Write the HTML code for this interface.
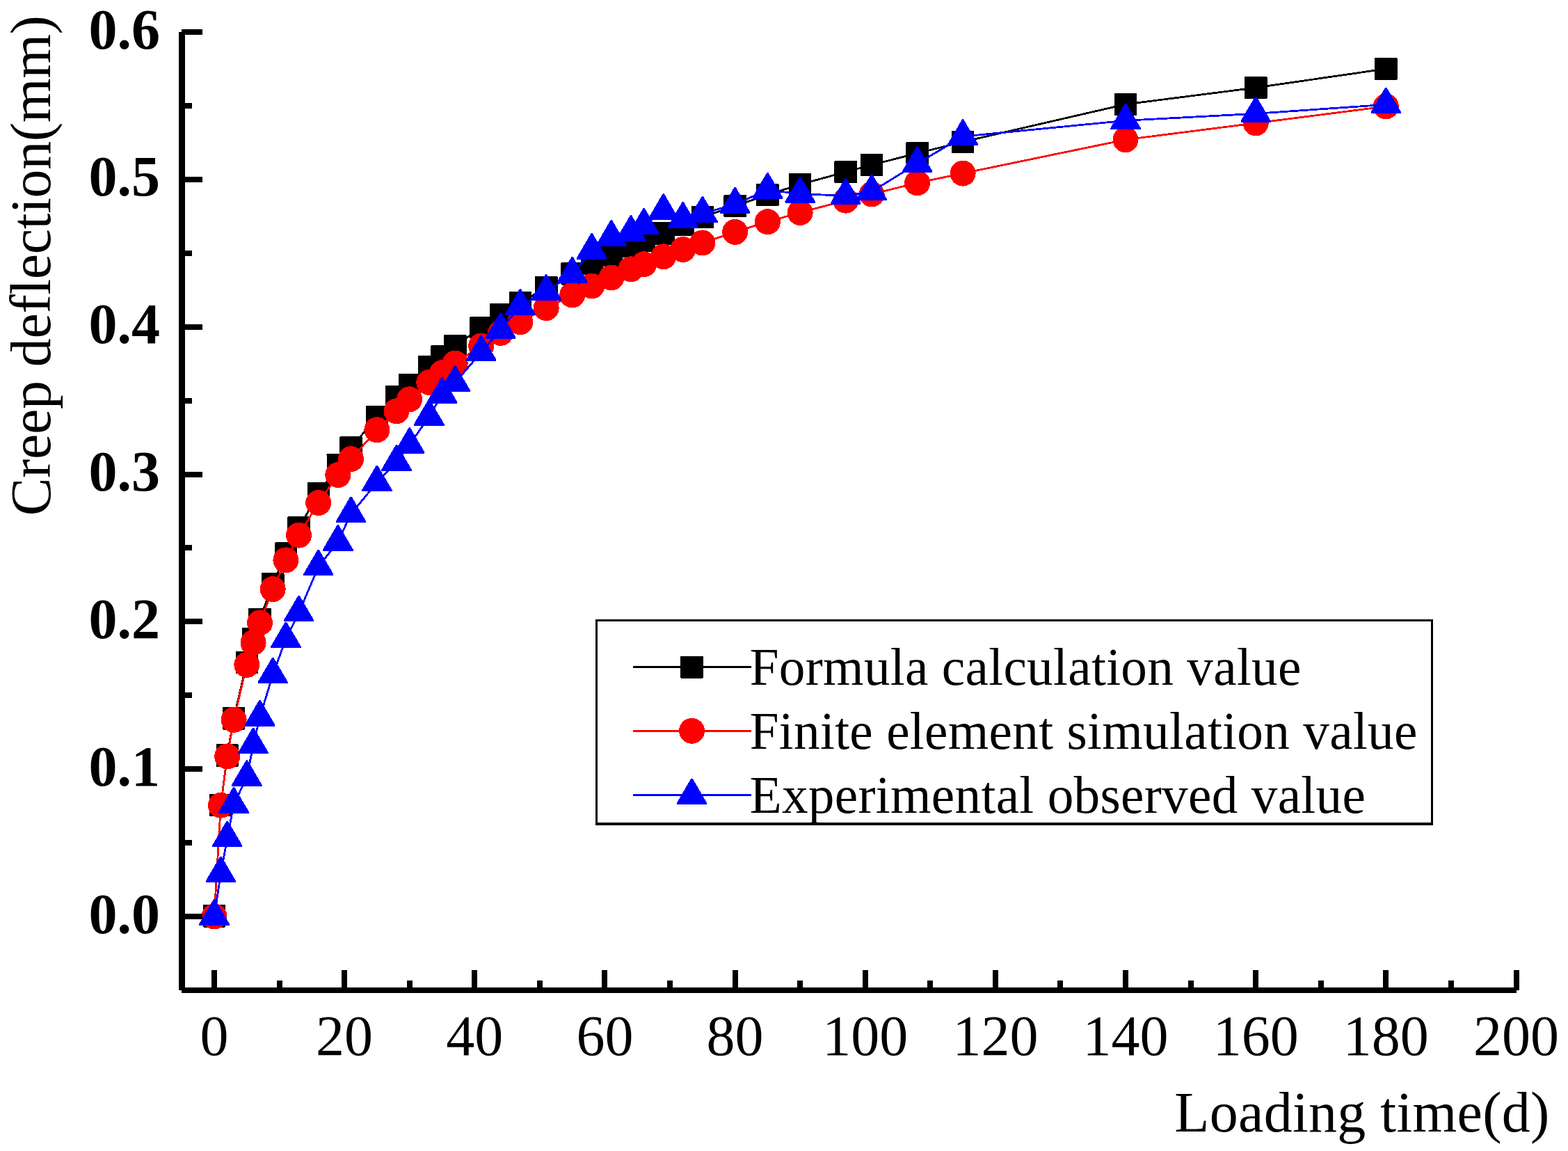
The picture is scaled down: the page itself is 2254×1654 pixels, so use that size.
<!DOCTYPE html>
<html lang="en">
<head>
<meta charset="utf-8">
<title>Creep deflection vs loading time</title>
<style>
html,body{margin:0;padding:0;background:#fff;}
body{width:2254px;height:1654px;overflow:hidden;}
svg{display:block;}
text{font-family:"Liberation Serif",serif;fill:#000;}
.ax{font-size:82px;}
.yt{font-size:82px;font-weight:bold;text-anchor:end;}
.xt{font-size:82px;text-anchor:middle;}
.lg{font-size:75.2px;}
.lig{font-variant-ligatures:discretionary-ligatures;font-feature-settings:"dlig" 1,"liga" 1;}
</style>
</head>
<body>
<svg width="2254" height="1654" viewBox="0 0 2254 1654" shape-rendering="crispEdges">
<rect x="0" y="0" width="2254" height="1654" fill="#fff"/>

<g fill="#000" stroke="none">
<polyline points="308,1316.5 317.4,1157.1 326.7,1085.4 336.1,1032.4 354.8,951.7 364.1,918.4 373.5,889.8 392.2,839.4 410.9,795.6 429.6,758.5 457.7,709.5 485.8,668.3 504.5,643.3 541.9,599.4 570,570.4 588.7,552.8 616.8,527.4 635.5,512.6 654.2,497.2 691.7,471.1 719.7,452.2 747.8,435.2 785.2,413 822.7,393.3 850.7,378.4 878.8,366.3 906.9,354.2 925.6,345.9 953.7,335.3 981.7,323.2 1009.8,311.9 1056.6,296 1103.4,279.9 1150.2,265.1 1215.7,247 1253.1,237 1318.6,220.2 1384.1,203.8 1618,149.9 1805.2,126 1992.3,98.9" fill="none" stroke="#000" stroke-width="2.8" stroke-linejoin="round"/>
<rect x="291.8" y="1300.2" width="32.5" height="32.5" rx="1.5"/>
<rect x="301.1" y="1140.8" width="32.5" height="32.5" rx="1.5"/>
<rect x="310.5" y="1069.2" width="32.5" height="32.5" rx="1.5"/>
<rect x="319.8" y="1016.2" width="32.5" height="32.5" rx="1.5"/>
<rect x="338.5" y="935.5" width="32.5" height="32.5" rx="1.5"/>
<rect x="347.9" y="902.1" width="32.5" height="32.5" rx="1.5"/>
<rect x="357.3" y="873.5" width="32.5" height="32.5" rx="1.5"/>
<rect x="376" y="823.1" width="32.5" height="32.5" rx="1.5"/>
<rect x="394.7" y="779.4" width="32.5" height="32.5" rx="1.5"/>
<rect x="413.4" y="742.2" width="32.5" height="32.5" rx="1.5"/>
<rect x="441.5" y="693.2" width="32.5" height="32.5" rx="1.5"/>
<rect x="469.5" y="652" width="32.5" height="32.5" rx="1.5"/>
<rect x="488.3" y="627" width="32.5" height="32.5" rx="1.5"/>
<rect x="525.7" y="583.1" width="32.5" height="32.5" rx="1.5"/>
<rect x="553.8" y="554.1" width="32.5" height="32.5" rx="1.5"/>
<rect x="572.5" y="536.5" width="32.5" height="32.5" rx="1.5"/>
<rect x="600.5" y="511.1" width="32.5" height="32.5" rx="1.5"/>
<rect x="619.3" y="496.4" width="32.5" height="32.5" rx="1.5"/>
<rect x="638" y="480.9" width="32.5" height="32.5" rx="1.5"/>
<rect x="675.4" y="454.9" width="32.5" height="32.5" rx="1.5"/>
<rect x="703.5" y="435.9" width="32.5" height="32.5" rx="1.5"/>
<rect x="731.6" y="418.9" width="32.5" height="32.5" rx="1.5"/>
<rect x="769" y="396.8" width="32.5" height="32.5" rx="1.5"/>
<rect x="806.4" y="377.1" width="32.5" height="32.5" rx="1.5"/>
<rect x="834.5" y="362.1" width="32.5" height="32.5" rx="1.5"/>
<rect x="862.6" y="350.1" width="32.5" height="32.5" rx="1.5"/>
<rect x="890.6" y="337.9" width="32.5" height="32.5" rx="1.5"/>
<rect x="909.3" y="329.6" width="32.5" height="32.5" rx="1.5"/>
<rect x="937.4" y="319.1" width="32.5" height="32.5" rx="1.5"/>
<rect x="965.5" y="306.9" width="32.5" height="32.5" rx="1.5"/>
<rect x="993.6" y="295.6" width="32.5" height="32.5" rx="1.5"/>
<rect x="1040.3" y="279.8" width="32.5" height="32.5" rx="1.5"/>
<rect x="1087.1" y="263.6" width="32.5" height="32.5" rx="1.5"/>
<rect x="1133.9" y="248.9" width="32.5" height="32.5" rx="1.5"/>
<rect x="1199.4" y="230.8" width="32.5" height="32.5" rx="1.5"/>
<rect x="1236.9" y="220.8" width="32.5" height="32.5" rx="1.5"/>
<rect x="1302.4" y="203.9" width="32.5" height="32.5" rx="1.5"/>
<rect x="1367.9" y="187.6" width="32.5" height="32.5" rx="1.5"/>
<rect x="1601.8" y="133.7" width="32.5" height="32.5" rx="1.5"/>
<rect x="1789" y="109.8" width="32.5" height="32.5" rx="1.5"/>
<rect x="1976.1" y="82.7" width="32.5" height="32.5" rx="1.5"/>
</g>
<g fill="#f00" stroke="none">
<polyline points="308,1317 317.4,1157.2 326.7,1086.9 336.1,1034.3 354.8,955.3 364.1,923.5 373.5,894.9 392.2,846.6 410.9,804.9 429.6,769.1 457.7,722.5 485.8,682.5 504.5,659.6 541.9,617.7 570,590.8 588.7,573.8 616.8,549.4 635.5,535.7 654.2,522 691.7,497 719.7,478.4 747.8,462.8 785.2,442.6 822.7,424 850.7,411 878.8,399 906.9,386.8 925.6,379.7 953.7,368.8 981.7,358.5 1009.8,348.9 1056.6,333.4 1103.4,318.7 1150.2,305.4 1215.7,288.1 1253.1,279 1318.6,262.8 1384.1,249.1 1618,200.7 1805.2,176.9 1992.3,152.9" fill="none" stroke="#f00" stroke-width="2.8" stroke-linejoin="round"/>
<circle cx="308" cy="1317" r="18.5"/>
<circle cx="317.4" cy="1157.2" r="18.5"/>
<circle cx="326.7" cy="1086.9" r="18.5"/>
<circle cx="336.1" cy="1034.3" r="18.5"/>
<circle cx="354.8" cy="955.3" r="18.5"/>
<circle cx="364.1" cy="923.5" r="18.5"/>
<circle cx="373.5" cy="894.9" r="18.5"/>
<circle cx="392.2" cy="846.6" r="18.5"/>
<circle cx="410.9" cy="804.9" r="18.5"/>
<circle cx="429.6" cy="769.1" r="18.5"/>
<circle cx="457.7" cy="722.5" r="18.5"/>
<circle cx="485.8" cy="682.5" r="18.5"/>
<circle cx="504.5" cy="659.6" r="18.5"/>
<circle cx="541.9" cy="617.7" r="18.5"/>
<circle cx="570" cy="590.8" r="18.5"/>
<circle cx="588.7" cy="573.8" r="18.5"/>
<circle cx="616.8" cy="549.4" r="18.5"/>
<circle cx="635.5" cy="535.7" r="18.5"/>
<circle cx="654.2" cy="522" r="18.5"/>
<circle cx="691.7" cy="497" r="18.5"/>
<circle cx="719.7" cy="478.4" r="18.5"/>
<circle cx="747.8" cy="462.8" r="18.5"/>
<circle cx="785.2" cy="442.6" r="18.5"/>
<circle cx="822.7" cy="424" r="18.5"/>
<circle cx="850.7" cy="411" r="18.5"/>
<circle cx="878.8" cy="399" r="18.5"/>
<circle cx="906.9" cy="386.8" r="18.5"/>
<circle cx="925.6" cy="379.7" r="18.5"/>
<circle cx="953.7" cy="368.8" r="18.5"/>
<circle cx="981.7" cy="358.5" r="18.5"/>
<circle cx="1009.8" cy="348.9" r="18.5"/>
<circle cx="1056.6" cy="333.4" r="18.5"/>
<circle cx="1103.4" cy="318.7" r="18.5"/>
<circle cx="1150.2" cy="305.4" r="18.5"/>
<circle cx="1215.7" cy="288.1" r="18.5"/>
<circle cx="1253.1" cy="279" r="18.5"/>
<circle cx="1318.6" cy="262.8" r="18.5"/>
<circle cx="1384.1" cy="249.1" r="18.5"/>
<circle cx="1618" cy="200.7" r="18.5"/>
<circle cx="1805.2" cy="176.9" r="18.5"/>
<circle cx="1992.3" cy="152.9" r="18.5"/>
</g>
<g fill="#00f" stroke="none">
<polyline points="308,1316.8 317.4,1255.4 326.7,1204.4 336.1,1155.8 354.8,1117.1 364.1,1070.4 373.5,1030.7 392.2,969.6 410.9,918.3 429.6,880.6 457.7,814.5 485.8,778.8 504.5,738.4 541.9,693.4 570,664 588.7,639.2 616.8,598.7 635.5,566.9 654.2,550 691.7,506.1 719.7,474 747.8,440 785.2,419.1 822.7,393.8 850.7,359.8 878.8,340.9 906.9,334.1 925.6,323.8 953.7,303.1 981.7,314.9 1009.8,306.8 1056.6,293.7 1103.4,272.8 1150.2,278.9 1215.7,281.1 1253.1,275.2 1318.6,235.1 1384.1,196.1 1618,173.3 1805.2,163.3 1992.3,150.3" fill="none" stroke="#00f" stroke-width="2.8" stroke-linejoin="round"/>
<polygon points="307,1292 309,1292 329.7,1327.4 329.7,1329.6 286.3,1329.6 286.3,1327.4"/>
<polygon points="316.4,1230.6 318.4,1230.6 339.1,1266 339.1,1268.2 295.7,1268.2 295.7,1266"/>
<polygon points="325.7,1179.6 327.7,1179.6 348.4,1215 348.4,1217.2 305,1217.2 305,1215"/>
<polygon points="335.1,1131 337.1,1131 357.8,1166.4 357.8,1168.6 314.4,1168.6 314.4,1166.4"/>
<polygon points="353.8,1092.3 355.8,1092.3 376.5,1127.7 376.5,1129.9 333.1,1129.9 333.1,1127.7"/>
<polygon points="363.1,1045.6 365.1,1045.6 385.8,1081 385.8,1083.2 342.4,1083.2 342.4,1081"/>
<polygon points="372.5,1005.9 374.5,1005.9 395.2,1041.3 395.2,1043.5 351.8,1043.5 351.8,1041.3"/>
<polygon points="391.2,944.8 393.2,944.8 413.9,980.2 413.9,982.4 370.5,982.4 370.5,980.2"/>
<polygon points="409.9,893.5 411.9,893.5 432.6,928.9 432.6,931.1 389.2,931.1 389.2,928.9"/>
<polygon points="428.6,855.8 430.6,855.8 451.3,891.2 451.3,893.4 407.9,893.4 407.9,891.2"/>
<polygon points="456.7,789.7 458.7,789.7 479.4,825.1 479.4,827.3 436,827.3 436,825.1"/>
<polygon points="484.8,754 486.8,754 507.5,789.4 507.5,791.6 464.1,791.6 464.1,789.4"/>
<polygon points="503.5,713.6 505.5,713.6 526.2,749 526.2,751.2 482.8,751.2 482.8,749"/>
<polygon points="540.9,668.6 542.9,668.6 563.6,704 563.6,706.2 520.2,706.2 520.2,704"/>
<polygon points="569,639.2 571,639.2 591.7,674.6 591.7,676.8 548.3,676.8 548.3,674.6"/>
<polygon points="587.7,614.4 589.7,614.4 610.4,649.8 610.4,652 567,652 567,649.8"/>
<polygon points="615.8,573.9 617.8,573.9 638.5,609.3 638.5,611.5 595.1,611.5 595.1,609.3"/>
<polygon points="634.5,542.1 636.5,542.1 657.2,577.5 657.2,579.7 613.8,579.7 613.8,577.5"/>
<polygon points="653.2,525.2 655.2,525.2 675.9,560.6 675.9,562.8 632.5,562.8 632.5,560.6"/>
<polygon points="690.7,481.3 692.7,481.3 713.4,516.7 713.4,518.9 670,518.9 670,516.7"/>
<polygon points="718.7,449.2 720.7,449.2 741.4,484.6 741.4,486.8 698,486.8 698,484.6"/>
<polygon points="746.8,415.2 748.8,415.2 769.5,450.6 769.5,452.8 726.1,452.8 726.1,450.6"/>
<polygon points="784.2,394.3 786.2,394.3 806.9,429.7 806.9,431.9 763.5,431.9 763.5,429.7"/>
<polygon points="821.7,369 823.7,369 844.4,404.4 844.4,406.6 801,406.6 801,404.4"/>
<polygon points="849.7,335 851.7,335 872.4,370.4 872.4,372.6 829,372.6 829,370.4"/>
<polygon points="877.8,316.1 879.8,316.1 900.5,351.5 900.5,353.7 857.1,353.7 857.1,351.5"/>
<polygon points="905.9,309.3 907.9,309.3 928.6,344.7 928.6,346.9 885.2,346.9 885.2,344.7"/>
<polygon points="924.6,299 926.6,299 947.3,334.4 947.3,336.6 903.9,336.6 903.9,334.4"/>
<polygon points="952.7,278.3 954.7,278.3 975.4,313.7 975.4,315.9 932,315.9 932,313.7"/>
<polygon points="980.7,290.1 982.7,290.1 1003.4,325.5 1003.4,327.7 960,327.7 960,325.5"/>
<polygon points="1008.8,282 1010.8,282 1031.5,317.4 1031.5,319.6 988.1,319.6 988.1,317.4"/>
<polygon points="1055.6,268.9 1057.6,268.9 1078.3,304.3 1078.3,306.5 1034.9,306.5 1034.9,304.3"/>
<polygon points="1102.4,248 1104.4,248 1125.1,283.4 1125.1,285.6 1081.7,285.6 1081.7,283.4"/>
<polygon points="1149.2,254.1 1151.2,254.1 1171.9,289.5 1171.9,291.7 1128.5,291.7 1128.5,289.5"/>
<polygon points="1214.7,256.3 1216.7,256.3 1237.4,291.7 1237.4,293.9 1194,293.9 1194,291.7"/>
<polygon points="1252.1,250.4 1254.1,250.4 1274.8,285.8 1274.8,288 1231.4,288 1231.4,285.8"/>
<polygon points="1317.6,210.3 1319.6,210.3 1340.3,245.7 1340.3,247.9 1296.9,247.9 1296.9,245.7"/>
<polygon points="1383.1,171.3 1385.1,171.3 1405.8,206.7 1405.8,208.9 1362.4,208.9 1362.4,206.7"/>
<polygon points="1617,148.5 1619,148.5 1639.8,183.9 1639.8,186.1 1596.3,186.1 1596.3,183.9"/>
<polygon points="1804.2,138.5 1806.2,138.5 1826.9,173.9 1826.9,176.1 1783.5,176.1 1783.5,173.9"/>
<polygon points="1991.3,125.5 1993.3,125.5 2014,160.9 2014,163.1 1970.6,163.1 1970.6,160.9"/>
</g>
<g fill="#000" stroke="none">
<rect x="257" y="46" width="9" height="1377"/>
<rect x="261" y="1419" width="1919" height="8"/>
<rect x="261" y="1313" width="30" height="8"/>
<rect x="261" y="1207" width="15" height="8"/>
<rect x="261" y="1101" width="30" height="8"/>
<rect x="261" y="995" width="15" height="8"/>
<rect x="261" y="889" width="30" height="8"/>
<rect x="261" y="783" width="15" height="8"/>
<rect x="261" y="678" width="30" height="8"/>
<rect x="261" y="572" width="15" height="8"/>
<rect x="261" y="466" width="30" height="8"/>
<rect x="261" y="360" width="15" height="8"/>
<rect x="261" y="254" width="30" height="8"/>
<rect x="261" y="148" width="15" height="8"/>
<rect x="261" y="42" width="30" height="8"/>
<rect x="304" y="1394" width="8" height="29"/>
<rect x="398" y="1409" width="8" height="14"/>
<rect x="491" y="1394" width="8" height="29"/>
<rect x="585" y="1409" width="8" height="14"/>
<rect x="678" y="1394" width="8" height="29"/>
<rect x="772" y="1409" width="8" height="14"/>
<rect x="865" y="1394" width="8" height="29"/>
<rect x="959" y="1409" width="8" height="14"/>
<rect x="1053" y="1394" width="8" height="29"/>
<rect x="1146" y="1409" width="8" height="14"/>
<rect x="1240" y="1394" width="8" height="29"/>
<rect x="1333" y="1409" width="8" height="14"/>
<rect x="1427" y="1394" width="8" height="29"/>
<rect x="1520" y="1409" width="8" height="14"/>
<rect x="1614" y="1394" width="8" height="29"/>
<rect x="1708" y="1409" width="8" height="14"/>
<rect x="1801" y="1394" width="8" height="29"/>
<rect x="1895" y="1409" width="8" height="14"/>
<rect x="1988" y="1394" width="8" height="29"/>
<rect x="2082" y="1409" width="8" height="14"/>
<rect x="2176" y="1394" width="8" height="29"/>
</g>
<text class="yt" x="230" y="1340.5">0.0</text>
<text class="yt" x="230" y="1128.7">0.1</text>
<text class="yt" x="230" y="916.8">0.2</text>
<text class="yt" x="230" y="705">0.3</text>
<text class="yt" x="230" y="493.2">0.4</text>
<text class="yt" x="230" y="281.3">0.5</text>
<text class="yt" x="230" y="69.5">0.6</text>
<text class="xt" x="308" y="1516">0</text>
<text class="xt" x="495.1" y="1516">20</text>
<text class="xt" x="682.3" y="1516">40</text>
<text class="xt" x="869.5" y="1516">60</text>
<text class="xt" x="1056.6" y="1516">80</text>
<text class="xt" x="1243.8" y="1516">100</text>
<text class="xt" x="1430.9" y="1516">120</text>
<text class="xt" x="1618" y="1516">140</text>
<text class="xt" x="1805.2" y="1516">160</text>
<text class="xt" x="1992.3" y="1516">180</text>
<text class="xt" x="2179.5" y="1516">200</text>
<text class="ax" x="2227.7" y="1626.1" text-anchor="end" letter-spacing="0.28">Loading time(d)</text>
<text class="ax lig" transform="translate(72.2 741.2) rotate(-90)" x="0" y="0" letter-spacing="-0.38">Creep deflection(mm)</text>
<rect x="857.5" y="891.6" width="1201.2" height="292.4" fill="#fff" stroke="#000" stroke-width="3.4"/>
<g fill="#000"><line x1="910" y1="958.8" x2="1079.7" y2="958.8" stroke="#000" stroke-width="2.8"/><rect x="978.2" y="942.5" width="32.5" height="32.5" rx="1.5"/></g>
<text class="lg" x="1077.7" y="984.3" letter-spacing="0.32">Formula calculation value</text>
<g fill="#f00"><line x1="910" y1="1050.3" x2="1079.7" y2="1050.3" stroke="#f00" stroke-width="2.8"/><circle cx="994.5" cy="1050.3" r="18.5"/></g>
<text class="lg" x="1077.7" y="1075.8" letter-spacing="0.32">Finite element simulation value</text>
<g fill="#00f"><line x1="910" y1="1142.4" x2="1079.7" y2="1142.4" stroke="#00f" stroke-width="2.8"/><polygon points="993.5,1118.5 995.5,1118.5 1016.2,1153.9 1016.2,1156.1 972.8,1156.1 972.8,1153.9"/></g>
<text class="lg" x="1077.7" y="1167.7" letter-spacing="0.32">Experimental observed value</text>
</svg>
</body>
</html>
